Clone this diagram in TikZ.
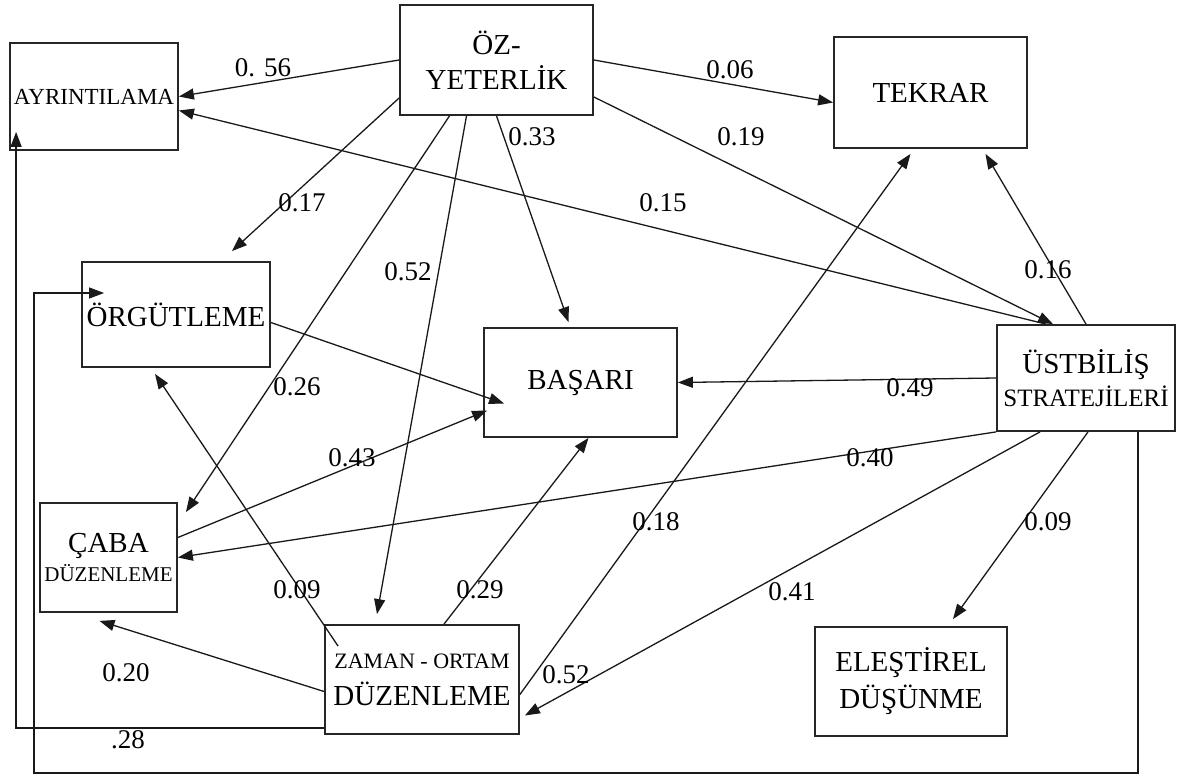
\documentclass[tikz,border=0pt]{standalone}
\usepackage{fontspec}
\setmainfont{Liberation Serif}
\usetikzlibrary{arrows.meta}

\begin{document}
\begin{tikzpicture}[x=1pt, y=-1pt]
        \tikzset{
            box/.style={draw=black!85, line width=1.8pt, inner sep=0pt, align=center, font=\fontsize{29}{35}\selectfont},
            link/.style={draw=black!90, line width=1.3pt, -{Triangle[length=15pt,width=11pt]}},
            weight/.style={font=\fontsize{27}{30}\selectfont, inner sep=1pt}
        }
        \useasboundingbox (0,0) rectangle (1179,776);

        \node[box, minimum width=168pt, minimum height=107pt, font=\fontsize{23}{27}\selectfont] (ayrintilama) at (94,96.5) {AYRINTILAMA};
        \node[box, minimum width=193pt, minimum height=110pt] (ozyeterlik) at (496.5,60) {ÖZ-\\YETERLİK};
        \node[box, minimum width=193pt, minimum height=111pt] (tekrar) at (930.5,92.5) {TEKRAR};
        \node[box, minimum width=188pt, minimum height=105pt] (orgutleme) at (176,314.5) {ÖRGÜTLEME};
        \node[box, minimum width=193pt, minimum height=109pt] (basari) at (580.5,382.5) {BAŞARI};
        \node[box, minimum width=178pt, minimum height=106pt] (ustbilis) at (1086,378) {ÜSTBİLİŞ\\[-2pt]{\fontsize{25}{30}\selectfont STRATEJİLERİ}};
        \node[box, minimum width=137pt, minimum height=109pt] (caba) at (108.5,557.5) {ÇABA\\[-6pt]{\fontsize{21}{25}\selectfont DÜZENLEME}};
        \node[box, minimum width=194pt, minimum height=109pt] (zaman) at (422,679.5) {{\fontsize{22}{26}\selectfont ZAMAN - ORTAM}\\[2pt]DÜZENLEME};
        \node[box, minimum width=192pt, minimum height=109pt] (elestirel) at (911,681.5) {ELEŞTİREL\\[2pt]DÜŞÜNME};

        \draw[link] (ozyeterlik.west) -- (ayrintilama.east);
        \draw[link] (ozyeterlik.east) -- ([yshift=-10pt]tekrar.west);
        \draw[link] ([yshift=-38pt]ozyeterlik.west) -- ([xshift=56pt,yshift=10pt]orgutleme.north);
        \draw[link] ([xshift=-47pt]ozyeterlik.south) -- ([xshift=8pt,yshift=-10pt]caba.north east);
        \draw[link] ([xshift=-30pt]ozyeterlik.south) -- ([xshift=-45pt,yshift=10pt]zaman.north);
        \draw[link] (ozyeterlik.south) -- ([xshift=-12pt,yshift=5pt]basari.north);
        \draw[link] ([yshift=-37pt]ozyeterlik.east) -- ([xshift=-33pt]ustbilis.north);
        \draw[link] ([xshift=-40pt]ustbilis.north) -- ([yshift=-14pt]ayrintilama.east);
        \draw[link] (ustbilis.north) -- ([xshift=55pt,yshift=-5pt]tekrar.south);
        \draw[link] (ustbilis.west) -- (basari.east);
        \draw[link] (ustbilis.south west) -- (caba.east);
        \draw[link] ([xshift=-46pt]ustbilis.south) -- ([xshift=5pt,yshift=-36pt]zaman.east);
        \draw[link] ([xshift=2pt]ustbilis.south) -- ([xshift=42pt,yshift=7pt]elestirel.north);
        \draw[link] ([yshift=-8pt]orgutleme.east) -- ([xshift=21pt,yshift=-21pt]basari.west);
        \draw[link] ([yshift=20pt]caba.east) -- ([xshift=4pt,yshift=-28pt]basari.west);
        \draw[link] ([xshift=14pt,yshift=-22pt]zaman.north west) -- ([xshift=-21pt,yshift=-6pt]orgutleme.south);
        \draw[link] ([xshift=22pt]zaman.north) -- ([xshift=8pt]basari.south);
        \draw[link] ([yshift=-12pt]zaman.west) -- ([xshift=-9pt,yshift=-8pt]caba.south);
        \draw[link] ([yshift=-15pt]zaman.east) -- ([xshift=-20pt,yshift=-5pt]tekrar.south);
        \draw[link] ([yshift=-48.5pt]zaman.west) -| ([xshift=7pt,yshift=19pt]ayrintilama.south west);
        \draw[link] ([xshift=-38pt]ustbilis.south east) |- (34,773) |- ([xshift=23pt,yshift=21.5pt]orgutleme.west);

        \node[weight] (w1) at (263,68) {0. 56};
        \node[weight] (w2) at (730,70) {0.06};
        \node[weight] (w3) at (302,203) {0.17};
        \node[weight] (w4) at (532,137) {0.33};
        \node[weight] (w5) at (741,137) {0.19};
        \node[weight] (w6) at (663,203) {0.15};
        \node[weight] (w7) at (408,272) {0.52};
        \node[weight] (w8) at (1048,270) {0.16};
        \node[weight] (w9) at (910,388) {0.49};
        \node[weight] (w10) at (297,387) {0.26};
        \node[weight] (w11) at (352,458) {0.43};
        \node[weight] (w12) at (870,458) {0.40};
        \node[weight] (w13) at (297,590) {0.09};
        \node[weight] (w14) at (480,590) {0.29};
        \node[weight] (w15) at (656,522) {0.18};
        \node[weight] (w16) at (1048,522) {0.09};
        \node[weight] (w17) at (792,592) {0.41};
        \node[weight] (w18) at (126,673) {0.20};
        \node[weight] (w19) at (566,675) {0.52};
        \node[weight] (w20) at (128,740) {.28};
    \end{tikzpicture}
\end{document}
